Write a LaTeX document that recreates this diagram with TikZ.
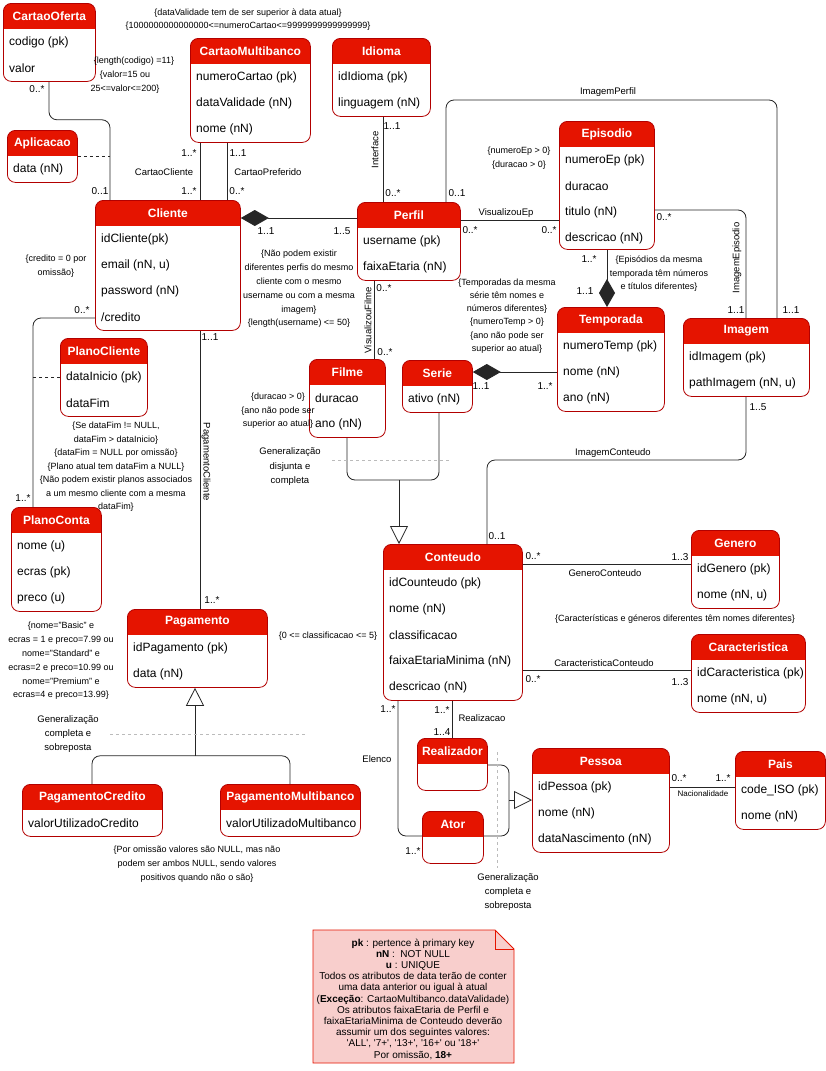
\documentclass[tikz,border=0pt]{standalone}
\usepackage{fontspec}
\setmainfont{Liberation Sans}
\usetikzlibrary{arrows.meta}

\definecolor{clshead}{HTML}{E51400}
\definecolor{clsedge}{HTML}{B20000}
\definecolor{notefill}{HTML}{F8CECC}
\definecolor{noteedge}{HTML}{E51400}
\definecolor{sepgray}{HTML}{BBBBBB}

% class box: name, top-left corner, width, height, title, attributes
\newcommand{\umlclass}[6]{%
  \node[cls, anchor=north west, minimum width=#3, minimum height=#4] (#1) at (#2) {};
  \node[clstitle] (#1-t) at ([yshift=-13pt]#1.north) {#5};
  \foreach \a [count=\i] in {#6} {
    \node[attr] (#1-\i) at ([xshift=6pt, yshift={-13-26*\i}]#1.north west) {\a};
  }
}
\newcommand{\squote}[1]{\textquotesingle#1\textquotesingle}

\begin{document}
\begin{tikzpicture}
  [x=1pt, y=-1pt,
  cls/.style={draw=clsedge, fill=white, line width=0.8pt, rounded corners=8pt, inner sep=0pt,
    path picture={\fill[clshead, sharp corners] (path picture bounding box.north west) rectangle ([yshift=-26pt]path picture bounding box.north east);}},
  clstitle/.style={text=white, font=\bfseries\fontsize{12}{14}\selectfont, inner sep=0pt},
  attr/.style={anchor=west, font=\fontsize{12}{14}\selectfont, inner sep=0pt},
  assoc/.style={draw=black!85, line width=0.8pt},
  dashlink/.style={assoc, dashed},
  comp/.style={assoc, {Diamond[length=28pt, width=16pt]}-},
  gen/.style={assoc, -{Triangle[length=18pt, width=18pt, fill=white]}},
  sep/.style={draw=sepgray, dashed, line width=0.6pt},
  mult/.style={font=\fontsize{10}{12}\selectfont, inner sep=0pt},
  lbl/.style={font=\fontsize{9}{13.5}\selectfont, inner sep=0pt, align=center},
  role/.style={font=\fontsize{9.5}{12}\selectfont, inner sep=0pt},
  notebox/.style={fill=notefill, draw=noteedge, line width=0.8pt}]

  \fill[white] (0,0) rectangle (826,1071);
  \useasboundingbox (0,0) rectangle (826,1071);

  % classes
  \umlclass{oferta}{3,3}{92}{78}{CartaoOferta}{codigo (pk), valor}
  \umlclass{aplic}{7,130}{70}{52}{Aplicacao}{data (nN)}
  \umlclass{cmb}{190,38}{120}{104}{CartaoMultibanco}{numeroCartao (pk), dataValidade (nN), nome (nN)}
  \umlclass{idioma}{332,38}{98}{78}{Idioma}{idIdioma (pk), linguagem (nN)}
  \umlclass{cliente}{95,200}{145}{130}{Cliente}{idCliente(pk), {email (nN, u)}, password (nN), /credito}
  \umlclass{perfil}{357,202}{103}{78}{Perfil}{username (pk), faixaEtaria (nN)}
  \umlclass{episodio}{559,121}{95}{128}{Episodio}{numeroEp (pk), duracao, titulo (nN), descricao (nN)}
  \umlclass{temporada}{557,307}{107}{104}{Temporada}{numeroTemp (pk), nome (nN), ano (nN)}
  \umlclass{imagem}{683,318}{126}{78}{Imagem}{idImagem (pk), {pathImagem (nN, u)}}
  \umlclass{filme}{309,359}{76}{78}{Filme}{duracao, ano (nN)}
  \umlclass{serie}{402,360}{70}{52}{Serie}{ativo (nN)}
  \umlclass{conteudo}{383,544}{139}{156}{Conteudo}{idCounteudo (pk), nome (nN), classificacao, faixaEtariaMinima (nN), descricao (nN)}
  \umlclass{genero}{691,530}{88}{78}{Genero}{idGenero (pk), {nome (nN, u)}}
  \umlclass{caract}{691,634}{114}{78}{Caracteristica}{idCaracteristica (pk), {nome (nN, u)}}
  \umlclass{realizador}{417,738}{70}{52}{Realizador}{}
  \umlclass{ator}{422,811}{61}{52}{Ator}{}
  \umlclass{pessoa}{532,748}{137}{104}{Pessoa}{idPessoa (pk), nome (nN), dataNascimento (nN)}
  \umlclass{pais}{735,751}{90}{78}{Pais}{code\_ISO (pk), nome (nN)}
  \umlclass{planocli}{60,338}{87}{78}{PlanoCliente}{dataInicio (pk), dataFim}
  \umlclass{planoconta}{11,507}{90}{104}{PlanoConta}{nome (u), ecras (pk), preco (u)}
  \umlclass{pagamento}{127,609}{140}{78}{Pagamento}{idPagamento (pk), data (nN)}
  \umlclass{pagcred}{22,784}{140}{52}{PagamentoCredito}{valorUtilizadoCredito}
  \umlclass{pagmb}{220,784}{140}{52}{PagamentoMultibanco}{valorUtilizadoMultibanco}

  % associations
  \coordinate (ofB) at ([xshift=46pt]oferta.south west);
  \coordinate (clTa) at ([xshift=15pt]cliente.north west);
  \draw[assoc, rounded corners=8pt] (ofB) -- ++(0,38) -| (clTa);
  \draw[dashlink] (aplic.east) -- (aplic.east -| clTa);

  \coordinate (cmbA) at ([xshift=10pt]cmb.south west);
  \coordinate (cmbB) at ([xshift=37pt]cmb.south west);
  \draw[assoc] (cmbA) -- (cmbA |- cliente.north);
  \draw[assoc] (cmbB) -- (cmbB |- cliente.north);

  \coordinate (clR) at ([yshift=-18pt]cliente.north east);
  \draw[comp] (clR) -- (clR -| perfil.west);

  \coordinate (idB) at ([xshift=51pt]idioma.south west);
  \draw[assoc] (idB) -- (idB |- perfil.north);

  \coordinate (pfR) at ([yshift=-18pt]perfil.north east);
  \draw[assoc] (pfR) -- (pfR -| episodio.west);

  \coordinate (pfT) at ([xshift=89pt]perfil.north west);
  \coordinate (imTa) at ([xshift=94pt]imagem.north west);
  \draw[assoc, rounded corners=8pt] (pfT) -- ++(0,-102) -| (imTa);

  \coordinate (epR) at ([yshift=-89pt]episodio.north east);
  \coordinate (imTb) at ([xshift=63pt]imagem.north west);
  \draw[assoc, rounded corners=8pt] (epR) -| (imTb);

  \coordinate (tpT) at ([xshift=50pt]temporada.north west);
  \draw[comp] (tpT) -- (tpT |- episodio.south);

  \coordinate (srR) at ([yshift=-12pt]serie.north east);
  \draw[comp] (srR) -- (srR -| temporada.west);

  \coordinate (fmT) at ([xshift=65pt]filme.north west);
  \draw[assoc] (fmT) -- (fmT |- perfil.south);

  % Filme / Serie -> Conteudo
  \coordinate (fmB) at ([xshift=38pt]filme.south west);
  \coordinate (srB) at ([xshift=37pt]serie.south west);
  \coordinate (ctTa) at ([xshift=16pt]conteudo.north west);
  \coordinate (fsJ) at ([yshift=64pt]ctTa);
  \draw[assoc, rounded corners=8pt] (fmB) |- (fsJ) -| (srB);
  \draw[gen] (fsJ) -- (ctTa);
  \draw[sep] (332,460) -- (450,460);

  \coordinate (clL) at ([yshift=-118pt]cliente.north west);
  \coordinate (pcT) at ([xshift=22pt]planoconta.north west);
  \draw[assoc, rounded corners=8pt] (clL) -| (pcT);
  \draw[dashlink] (planocli.west) -- (planocli.west -| pcT);

  \coordinate (clB) at ([xshift=105pt]cliente.south west);
  \draw[assoc] (clB) -- (clB |- pagamento.north);

  % Pagamento subclasses
  \coordinate (pgB) at ([xshift=68pt]pagamento.south west);
  \coordinate (pgJ) at ([yshift=-68pt]pgB);
  \coordinate (pcrT) at ([xshift=70pt]pagcred.north west);
  \coordinate (pmbT) at ([xshift=70pt]pagmb.north west);
  \draw[assoc, rounded corners=8pt] (pcrT) |- (pgJ) -| (pmbT);
  \draw[gen] (pgJ) -- (pgB);
  \draw[sep] (110,734) -- (305,734);

  \coordinate (ctTb) at ([xshift=104pt]conteudo.north west);
  \coordinate (imB) at ([xshift=63pt]imagem.south west);
  \draw[assoc, rounded corners=8pt] (ctTb) -- ++(0,-84) -| (imB);

  \coordinate (ctRa) at ([yshift=-20pt]conteudo.north east);
  \coordinate (ctRb) at ([yshift=-126pt]conteudo.north east);
  \draw[assoc] (ctRa) -- (ctRa -| genero.west);
  \draw[assoc] (ctRb) -- (ctRb -| caract.west);

  \coordinate (ctBa) at ([xshift=69pt]conteudo.south west);
  \coordinate (ctBb) at ([xshift=15pt]conteudo.south west);
  \coordinate (atL) at ([yshift=-25pt]ator.north west);
  \draw[assoc] (ctBa) -- (ctBa |- realizador.north);
  \draw[assoc, rounded corners=8pt] (ctBb) |- (atL);

  % Realizador / Ator -> Pessoa
  \coordinate (rzR) at ([yshift=-27pt]realizador.north east);
  \coordinate (atR) at ([yshift=-25pt]ator.north east);
  \coordinate (psL) at ([yshift=-52pt]pessoa.north west);
  \coordinate (psJ) at ([xshift=-23pt]psL);
  \draw[assoc, rounded corners=8pt] (rzR) -| (psJ) |- (atR);
  \draw[gen] (psJ) -- (psL);
  \draw[sep] (497,752) -- (497,868);

  \coordinate (psR) at ([yshift=-39pt]pessoa.north east);
  \draw[assoc] (psR) -- (psR -| pais.west);

  % multiplicities
  \foreach \x/\y/\t [count=\k] in {37/89/0..*, 100/191/0..1, 189/153/1..*, 189/191/1..*,
      238/153/1..1, 237/191/0..*, 266/231/1..1, 342/231/1..5, 392/126/1..1, 393/193/0..*,
      457/193/0..1, 470/230/0..*, 549/230/0..*, 664/217/0..*, 736/310/1..1, 791/310/1..1,
      589/259/1..*, 585/291/1..1, 481/386/1..1, 545/386/1..*, 384/288/0..*, 385/352/0..*,
      497/536/0..1, 758/407/1..5, 82/310/0..*, 23/498/1..*, 210/337/1..1, 212/600/1..*,
      533/556/0..*, 680/557/1..3, 533/679/0..*, 680/682/1..3, 442/710/1..*, 442/732/1..4,
      388/709/1..*, 413/851/1..*, 679/778/0..*, 723/778/1..*}
    \node[mult] (mult\k) at (\x,\y) {\t};

  % association names
  \node[role] (rCC) at (164,172) {CartaoCliente};
  \node[role] (rCP) at (268,172) {CartaoPreferido};
  \node[role, rotate=90] (rIf) at (375,150) {Interface};
  \node[role] (rVE) at (506,213) {VisualizouEp};
  \node[role] (rIP) at (608,92) {ImagemPerfil};
  \node[role, rotate=90] (rIE) at (737,258) {ImagemEpisodio};
  \node[role, rotate=90] (rVF) at (368,320) {VisualizouFilme};
  \node[role, rotate=-90] (rPC) at (206,462) {PagamentoCliente};
  \node[role] (rIC) at (613,453) {ImagemConteudo};
  \node[role] (rGC) at (605,573) {GeneroConteudo};
  \node[role] (rCaC) at (604,663) {CaracteristicaConteudo};
  \node[role] (rRz) at (482,718) {Realizacao};
  \node[role] (rEl) at (377,759) {Elenco};
  \node[role, font=\fontsize{8}{10}\selectfont] (rNa) at (703,794) {Nacionalidade};

  % constraints
  \node[lbl, font=\fontsize{9}{13}\selectfont] (cTop) at (248,19.5) {\{dataValidade tem de ser superior à data atual\}\\\{1000000000000000<=numeroCartao<=9999999999999999\}};
  \node[lbl] (cOf1) at (134,61) {\{length(codigo) =11\}};
  \node[lbl] (cOf2) at (125,82) {\{valor=15 ou\\25<=valor<=200\}};
  \node[lbl] (cCl) at (56,266) {\{credito = 0 por\\omissão\}};
  \node[lbl, font=\fontsize{9}{13.8}\selectfont] (cPf) at (299,289) {\{Não podem existir\\diferentes perfis do mesmo\\cliente com o mesmo\\username ou com a mesma\\imagem\}\\\{length(username) <= 50\}};
  \node[lbl] (cEp) at (519,158) {\{numeroEp > 0\}\\\{duracao > 0\}};
  \node[lbl] (cTp) at (659,274) {\{Episódios da mesma\\temporada têm números\\e títulos diferentes\}};
  \node[lbl, font=\fontsize{9}{13.2}\selectfont] (cSe) at (507,316) {\{Temporadas da mesma\\série têm nomes e\\números diferentes\}\\\{numeroTemp > 0\}\\\{ano não pode ser\\superior ao atual\}};
  \node[lbl] (cFm) at (278,411) {\{duracao > 0\}\\\{ano não pode ser\\superior ao atual\}};
  \node[lbl, font=\fontsize{9.5}{14.5}\selectfont] (gFS) at (290,467) {Generalização\\disjunta e\\completa};
  \node[lbl] (cPl) at (116,467) {\{Se dataFim != NULL,\\dataFim > dataInicio\}\\\{dataFim = NULL por omissão\}\\\{Plano atual tem dataFim a NULL\}\\\{Não podem existir planos associados\\a um mesmo cliente com a mesma\\dataFim\}};
  \node[lbl, font=\fontsize{9}{13.8}\selectfont] (cPc) at (61,661) {\{nome="Basic" e\\ecras = 1 e preco=7.99 ou\\nome="Standard" e\\ecras=2 e preco=10.99 ou\\nome="Premium" e\\ecras=4 e preco=13.99\}};
  \node[lbl] (cCt) at (328,636) {\{0 <= classificacao <= 5\}};
  \node[lbl] (cGe) at (675,619) {\{Características e géneros diferentes têm nomes diferentes\}};
  \node[lbl, font=\fontsize{9.5}{14}\selectfont] (gPg) at (68,734) {Generalização\\completa e\\sobreposta};
  \node[lbl, font=\fontsize{9}{14}\selectfont] (cPg) at (197,864) {\{Por omissão valores são NULL, mas não\\podem ser ambos NULL, sendo valores\\positivos quando não o são\}};
  \node[lbl, font=\fontsize{9.5}{14}\selectfont] (gPs) at (508,892) {Generalização\\completa e\\sobreposta};

  % note
  \draw[notebox] (313,930) -- (495,930) -- (514,949) -- (514,1063) -- (313,1063) -- cycle;
  \draw[notebox, fill=none] (495,930) -- (495,949) -- (514,949);
  \node[lbl, font=\fontsize{10}{11.2}\selectfont] (legenda) at (413,999) {\textbf{pk} : pertence à primary key\\\textbf{nN} :\ \ NOT NULL\\\textbf{u} : UNIQUE\\Todos os atributos de data terão de conter\\uma data anterior ou igual à atual\\(\textbf{Exceção}: CartaoMultibanco.dataValidade)\\Os atributos faixaEtaria de Perfil e\\faixaEtariaMinima de Conteudo deverão\\assumir um dos seguintes valores:\\\squote{ALL}, \squote{7+}, \squote{13+}, \squote{16+} ou \squote{18+}\\Por omissão, \textbf{18+}};
\end{tikzpicture}
\end{document}
